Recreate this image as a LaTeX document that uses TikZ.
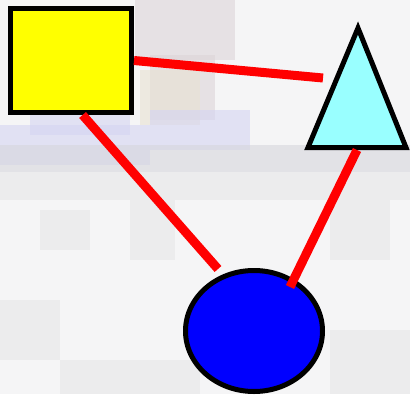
\documentclass[tikz,border=0pt]{standalone}
\usetikzlibrary{shapes.geometric}
\definecolor{bgbase}{HTML}{F5F5F6}
\definecolor{bgpink}{HTML}{DCD4D8}
\definecolor{bgbeige}{HTML}{E8E2D2}
\definecolor{bglav}{HTML}{D4D4F2}
\definecolor{bggray}{HTML}{D6D6DC}
\definecolor{bglight}{HTML}{E6E6E8}
\definecolor{sqfill}{HTML}{FFFF00}
\definecolor{trifill}{HTML}{99FFFF}
\definecolor{ellfill}{HTML}{0000FF}
\definecolor{linkred}{HTML}{FF0000}
\tikzset{
  shapebox/.style={draw=black, line width=5pt, inner sep=0pt},
  link/.style={draw=linkred, line width=9pt, line cap=butt},
  blob/.style={fill opacity=0.6, draw=none}
}
\begin{document}
\begin{tikzpicture}[x=1pt, y=-1pt]
\useasboundingbox (0,0) rectangle (410,394);
\clip (0,0) rectangle (410,394);
% blurred photographic background (approximation)
\fill[bgbase] (0,0) rectangle (410,394);
\fill[bgpink, blob] (135,0) rectangle (235,60);
\fill[bgpink, blob] (150,55) rectangle (215,120);
\fill[bgbeige, blob] (140,70) rectangle (200,125);
\fill[bglav, blob] (0,125) rectangle (150,165);
\fill[bglav, blob] (30,115) rectangle (130,135);
\fill[bglav, blob] (150,110) rectangle (250,150);
\fill[bggray, blob] (0,145) rectangle (410,172);
\fill[bglight, blob] (0,172) rectangle (410,200);
\fill[bglight, blob] (40,210) rectangle (90,250);
\fill[bglight, blob] (130,200) rectangle (175,260);
\fill[bglight, blob] (330,200) rectangle (390,260);
\fill[bglight, blob] (0,300) rectangle (60,360);
\fill[bglight, blob] (60,360) rectangle (200,394);
\fill[bglight, blob] (330,330) rectangle (410,394);

% shapes
\node[shapebox, rectangle, fill=sqfill, minimum width=121pt, minimum height=104pt] (sq) at (71,60.5) {};
\coordinate (ta) at (358,28);
\coordinate (tl) at (308,147.5);
\coordinate (tr) at (406,147.5);
\draw[shapebox, fill=trifill, line join=miter] (ta) -- (tr) -- (tl) -- cycle;
\node[shapebox, ellipse, fill=ellfill, minimum width=137pt, minimum height=121pt] (ell) at (254,331) {};

% connector end points
\coordinate (e1) at (323,78);
\coordinate (tb) at (357,150);
\coordinate (e2) at (218,269);
\coordinate (e3) at (290,287);

% connectors
\draw[link] (sq.east) -- (e1);
\draw[link] (sq.-78) -- (e2);
\draw[link] (tb) -- (e3);
\end{tikzpicture}
\end{document}
